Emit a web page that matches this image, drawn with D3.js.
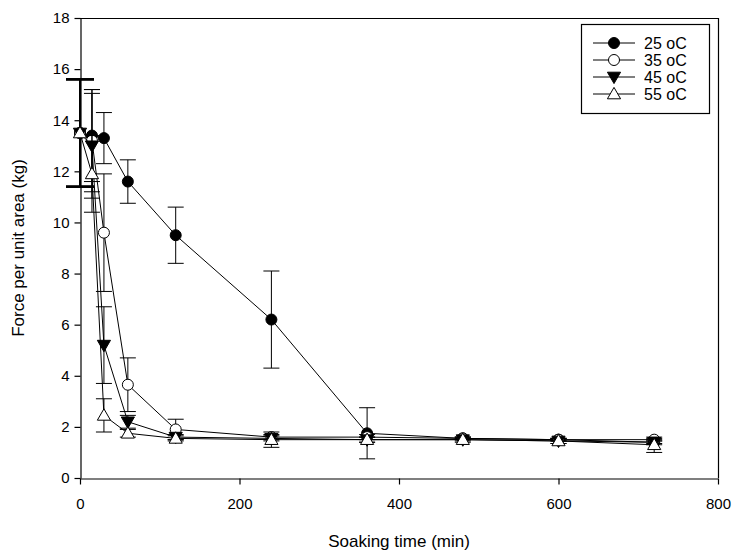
<!DOCTYPE html>
<html>
<head>
<meta charset="utf-8">
<script src="https://cdn.jsdelivr.net/npm/d3@7"></script>
<style>
  body { margin: 0; background: #fff; }
  text { font-family: "Liberation Sans", Arial, sans-serif; fill: #000; }
</style>
</head>
<body>
<svg id="chart" width="735" height="559"></svg>
<script>
// soaking times (min)
const times = [0, 15, 30, 60, 120, 240, 360, 480, 600, 720];

// force per unit area (kg) and error for each temperature
const f25 = [13.5, 13.4, 13.3, 11.6, 9.5, 6.2, 1.75, 1.55, 1.5, 1.4];
const e25 = [2.1, 1.8, 1.0, 0.85, 1.1, 1.9, 1.0, 0.05, 0.05, 0.1];
const f35 = [13.5, 13.2, 9.6, 3.65, 1.9, 1.6, 1.6, 1.55, 1.5, 1.5];
const e35 = [2.1, 2.0, 2.3, 1.05, 0.4, 0.1, 0.1, 0.05, 0.05, 0.05];
const f45 = [13.5, 13.0, 5.2, 2.2, 1.6, 1.55, 1.5, 1.5, 1.45, 1.4];
const e45 = [2.1, 2.05, 1.5, 0.25, 0.1, 0.1, 0.1, 0.05, 0.1, 0.05];
const f55 = [13.5, 11.9, 2.45, 1.75, 1.55, 1.5, 1.5, 1.5, 1.45, 1.3];
const e55 = [2.1, 1.5, 0.65, 0.15, 0.1, 0.3, 0.1, 0.1, 0.1, 0.3];

const seriesNames = ["25 oC", "35 oC", "45 oC", "55 oC"];
const xTicks = [0, 200, 400, 600, 800];
const yTicks = [0, 2, 4, 6, 8, 10, 12, 14, 16, 18];

const series = [
  { name: seriesNames[0], vals: f25, errs: e25, shape: "circle", fill: "#000" },
  { name: seriesNames[1], vals: f35, errs: e35, shape: "circle", fill: "#fff" },
  { name: seriesNames[2], vals: f45, errs: e45, shape: "down", fill: "#000" },
  { name: seriesNames[3], vals: f55, errs: e55, shape: "up", fill: "#fff" }
];

const mLeft = 80, mRight = 718, mTop = 18, mBottom = 478;

const svg = d3.select("#chart");

const x = d3.scaleLinear().domain([0, 800]).range([mLeft, mRight]);
const y = d3.scaleLinear().domain([0, 18]).range([mBottom, mTop]);

// frame (top + right)
svg.append("path")
  .attr("d", `M${mLeft},${mTop + 0.5}H${mRight + 0.5}V${mBottom}`)
  .attr("fill", "none").attr("stroke", "#000").attr("stroke-width", 1.2);

// X axis
const xAxis = svg.append("g")
  .attr("transform", `translate(0,${mBottom + 0.5})`)
  .call(d3.axisBottom(x).tickValues(xTicks).tickSize(6).tickSizeOuter(0).tickPadding(14));
xAxis.selectAll("text").style("font-size", "15px");

// Y axis
const yAxis = svg.append("g")
  .attr("transform", `translate(${mLeft + 0.5},0)`)
  .call(d3.axisLeft(y).tickValues(yTicks).tickSize(6).tickSizeOuter(0).tickPadding(5));
yAxis.selectAll("text").style("font-size", "15px");
svg.selectAll(".domain, .tick line").attr("stroke", "#000").attr("stroke-width", 1.2);

// axis titles
svg.append("text")
  .attr("x", (mLeft + mRight) / 2).attr("y", 547)
  .attr("text-anchor", "middle").style("font-size", "17px")
  .text("Soaking time (min)");
svg.append("text")
  .attr("transform", `translate(24,${(mTop + mBottom) / 2}) rotate(-90)`)
  .attr("text-anchor", "middle").style("font-size", "17px")
  .text("Force per unit area (kg)");

function marker(g, shape, fill, cx, cy) {
  if (shape === "circle") {
    g.append("circle").attr("cx", cx).attr("cy", cy).attr("r", 5.5)
      .attr("fill", fill).attr("stroke", "#000").attr("stroke-width", 1);
  } else {
    const sym = d3.symbol().type(d3.symbolTriangle).size(75);
    g.append("path").attr("d", sym())
      .attr("transform", `translate(${cx},${cy + (shape === "down" ? -1 : 1)}) rotate(${shape === "down" ? 180 : 0})`)
      .attr("fill", fill).attr("stroke", "#000").attr("stroke-width", 1);
  }
}

const line = d3.line().x(d => x(d[0])).y(d => y(d[1]));

series.forEach(s => {
  const g = svg.append("g");
  const pts = times.map((t, i) => [t, s.vals[i], s.errs[i]]);
  // error bars
  pts.forEach(p => {
    const cx = x(p[0]);
    const w = p[0] === 0 ? 14 : 8;
    const sw = p[0] === 0 ? 2 : 1;
    [p[1] + p[2], p[1] - p[2]].forEach(v => {
      g.append("line").attr("x1", cx - w).attr("x2", cx + w)
        .attr("y1", y(v)).attr("y2", y(v))
        .attr("stroke", "#000").attr("stroke-width", sw);
    });
    g.append("line").attr("x1", cx).attr("x2", cx)
      .attr("y1", y(p[1] + p[2])).attr("y2", y(p[1] - p[2]))
      .attr("stroke", "#000").attr("stroke-width", sw);
  });
  g.append("path").datum(pts).attr("d", line)
    .attr("fill", "none").attr("stroke", "#000").attr("stroke-width", 1);
  pts.forEach(p => marker(g, s.shape, s.fill, x(p[0]), y(p[1])));
});

// legend
const lg = svg.append("g");
lg.append("rect").attr("x", 581.5).attr("y", 24.5).attr("width", 128).attr("height", 89)
  .attr("fill", "#fff").attr("stroke", "#000").attr("stroke-width", 1.2);
series.forEach((s, i) => {
  const ly = 43 + i * 17;
  lg.append("line").attr("x1", 593).attr("x2", 635).attr("y1", ly).attr("y2", ly)
    .attr("stroke", "#000").attr("stroke-width", 1);
  marker(lg, s.shape, s.fill, 614, ly);
  lg.append("text").attr("x", 644).attr("y", ly).attr("dy", "0.35em")
    .style("font-size", "16px").text(s.name);
});
</script>
</body>
</html>
